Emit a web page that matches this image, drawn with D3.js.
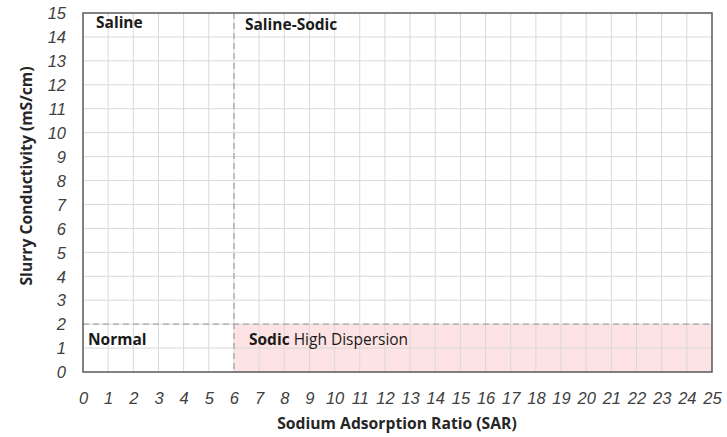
<!DOCTYPE html>
<html><head><meta charset="utf-8">
<script src="https://cdn.jsdelivr.net/npm/d3@7"></script>
<style>body{margin:0;background:#fff;}svg{display:block;font-family:"Open Sans",sans-serif;}</style>
</head><body><svg id="c" width="727" height="437"></svg>
<script>
const xTicks = d3.range(0, 26);
const yTicks = d3.range(0, 16);
const xDomain = [0, 25];
const yDomain = [0, 15];
const sarThreshold = 6;
const ecThreshold = 2;
const zones = [
  {name: "Saline", extra: "", x: 0, y: 15},
  {name: "Saline-Sodic", extra: "", x: 6, y: 15},
  {name: "Normal", extra: "", x: 0, y: 2},
  {name: "Sodic", extra: " High Dispersion", x: 6, y: 2}
];
const xTitle = "Sodium Adsorption Ratio (SAR)";
const yTitle = "Slurry Conductivity (mS/cm)";

// layout (pixel offsets for zone labels)
const labelOffsets = [[13, 15], [11, 17], [5, 21], [15, 21]];

const svg = d3.select("#c");
const L = 83, R = 712, T = 13, B = 372;
const x = d3.scaleLinear().domain(xDomain).range([L, R]);
const y = d3.scaleLinear().domain(yDomain).range([B, T]);

svg.append("rect").attr("x", x(sarThreshold)).attr("y", y(ecThreshold))
  .attr("width", x(xDomain[1]) - x(sarThreshold)).attr("height", y(0) - y(ecThreshold))
  .attr("fill", "#fde3e3");

svg.append("g").selectAll("line").data(xTicks.slice(1, -1)).join("line")
  .attr("x1", d => x(d)).attr("x2", d => x(d)).attr("y1", T).attr("y2", B)
  .attr("stroke", "#d9d9d9").attr("stroke-width", 1);
svg.append("g").selectAll("line").data(yTicks.slice(1, -1)).join("line")
  .attr("y1", d => y(d)).attr("y2", d => y(d)).attr("x1", L).attr("x2", R)
  .attr("stroke", "#d9d9d9").attr("stroke-width", 1);

svg.append("line").attr("x1", x(sarThreshold)).attr("x2", x(sarThreshold)).attr("y1", y(15)).attr("y2", y(0))
  .attr("stroke", "#a6a6a6").attr("stroke-width", 1.3).attr("stroke-dasharray", "6,4");
svg.append("line").attr("x1", x(0)).attr("x2", x(25)).attr("y1", y(ecThreshold)).attr("y2", y(ecThreshold))
  .attr("stroke", "#a6a6a6").attr("stroke-width", 1.3).attr("stroke-dasharray", "6,4");

svg.append("rect").attr("x", L).attr("y", T).attr("width", R - L).attr("height", B - T)
  .attr("fill", "none").attr("stroke", "#595959").attr("stroke-width", 1.5);

const xAxis = d3.axisBottom(x).tickValues(xTicks).tickSize(0).tickPadding(0);
const gx = svg.append("g").attr("transform", `translate(0,${B})`).call(xAxis);
gx.select(".domain").remove();
gx.selectAll("text").attr("dy", null).attr("y", 32).attr("font-style", "italic")
  .attr("font-size", 16.5).attr("fill", "#404040");

const yAxis = d3.axisLeft(y).tickValues(yTicks).tickSize(0).tickPadding(0);
const gy = svg.append("g").attr("transform", `translate(${L - 17},0)`).call(yAxis);
gy.select(".domain").remove();
gy.selectAll("text").attr("font-style", "italic").attr("font-size", 16.5).attr("fill", "#404040")
  .attr("dy", "0.35em");

svg.append("text").attr("x", 397).attr("y", 429).attr("text-anchor", "middle")
  .attr("font-weight", "bold").attr("font-size", 15.7).attr("fill", "#262626").text(xTitle);
svg.append("text").attr("transform", `translate(32,176) rotate(-90)`).attr("text-anchor", "middle")
  .attr("font-weight", "bold").attr("font-size", 15.7).attr("fill", "#262626").text(yTitle);

zones.forEach((z, i) => {
  const t = svg.append("text").attr("x", x(z.x) + labelOffsets[i][0]).attr("y", y(z.y) + labelOffsets[i][1])
    .attr("font-size", 15.5).attr("fill", "#1a1a1a");
  t.append("tspan").attr("font-weight", "bold").text(z.name);
  if (z.extra) t.append("tspan").text(z.extra);
});
</script></body></html>
